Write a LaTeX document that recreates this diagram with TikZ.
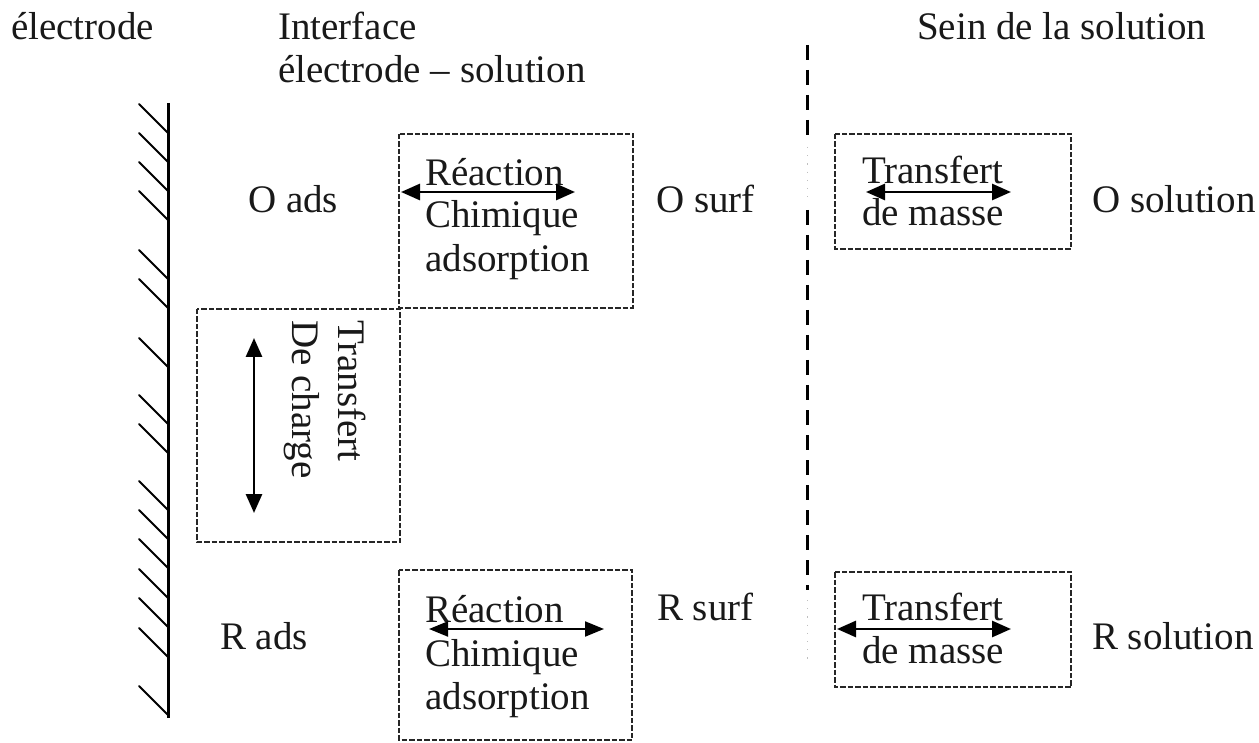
\documentclass[tikz,border=0pt]{standalone}
\usepackage{fontspec}
\setmainfont{Liberation Serif}
\usetikzlibrary{arrows.meta}
\begin{document}
\begin{tikzpicture}[x=1pt,y=-1pt,
  lbl/.style={anchor=base west, inner sep=0pt, text=black!90, font=\fontsize{39}{44}\selectfont},
  dbox/.style={draw=black!85, line width=2pt, dash pattern=on 5.5pt off 2pt},
  dbl/.style={{Triangle[length=19pt,width=16pt]}-{Triangle[length=19pt,width=16pt]}, line width=2.8pt},
  dblthin/.style={{Triangle[length=19pt,width=15pt]}-{Triangle[length=19pt,width=15pt]}, line width=2pt},
  sep/.style={line width=3pt, dash pattern=on 15pt off 10pt},
  faint/.style={draw=black!25, line width=1pt, dash pattern=on 1.2pt off 7pt},
  hatch/.style={line width=2pt, line cap=round},
  wall/.style={line width=3pt}
]
\useasboundingbox (0,0) rectangle (1259,743);

% headers
\node[lbl] (hElec) at (11,40) {électrode};
\node[lbl] (hInt1) at (278,40) {Interface};
\node[lbl] (hInt2) at (278,83) {électrode -- solution};
\node[lbl] (hSein) at (917,40) {Sein de la solution};

% electrode wall
\coordinate (wTop) at (168,103);
\coordinate (wBot) at (168,718);
\draw[wall] (wTop) -- (wBot);
\foreach \y in {133,162,191,220,279,308,367,424,453,510,539,568,598,627,657,715}{
  \draw[hatch] (139,\y-29) -- (168,\y);
}

% separator
\coordinate (s1a) at (807,45);
\coordinate (s1b) at (807,137);
\coordinate (s2a) at (807,210);
\coordinate (s2b) at (807,590);
\draw[sep] (s1a) -- (s1b);
\draw[sep] (s2a) -- (s2b);
\draw[faint] (807,147) -- (807,197);
\draw[faint] (807,600) -- (807,662);

% dashed boxes
\draw[dbox] (399,134) rectangle (633,308);
\draw[dbox] (197,309) rectangle (400,542);
\draw[dbox] (399,570) rectangle (632,740);
\draw[dbox] (835,134) rectangle (1071,249);
\draw[dbox] (835,572) rectangle (1071,687);

% species labels
\node[lbl] (Oads) at (248,213) {O ads};
\node[lbl] (Osurf) at (656,213) {O surf};
\node[lbl] (Osol) at (1092,213) {O solution};
\node[lbl] (Rads) at (220,649) {R ads};
\node[lbl] (Rsurf) at (657,620) {R surf};
\node[lbl] (Rsol) at (1092,649) {R solution};

% top reaction box text
\node[lbl] (t1a) at (425,186) {Réaction};
\node[lbl] (t1b) at (425,228) {Chimique};
\node[lbl] (t1c) at (425,272) {adsorption};
\coordinate (a1l) at (401,192);
\coordinate (a1r) at (575,192);
\draw[dbl] (a1l) -- (a1r);

% bottom reaction box text
\node[lbl] (t2a) at (425,622) {Réaction};
\node[lbl] (t2b) at (425,666) {Chimique};
\node[lbl] (t2c) at (425,709) {adsorption};
\coordinate (a2l) at (429,629);
\coordinate (a2r) at (604,629);
\draw[dblthin] (a2l) -- (a2r);

% charge transfer
\node[lbl, rotate=-90] (c1) at (338,320) {Transfert};
\node[lbl, rotate=-90] (c2) at (292,320) {De charge};
\coordinate (a3t) at (254,338);
\coordinate (a3b) at (254,513);
\draw[dbl] (a3t) -- (a3b);

% mass transfer top
\node[lbl] (m1a) at (862,184) {Transfert};
\node[lbl] (m1b) at (862,226) {de masse};
\coordinate (a4l) at (866,192);
\coordinate (a4r) at (1011,192);
\draw[dbl] (a4l) -- (a4r);

% mass transfer bottom
\node[lbl] (m2a) at (862,620) {Transfert};
\node[lbl] (m2b) at (862,663) {de masse};
\coordinate (a5l) at (837,629);
\coordinate (a5r) at (1011,629);
\draw[dbl] (a5l) -- (a5r);
\end{tikzpicture}
\end{document}
